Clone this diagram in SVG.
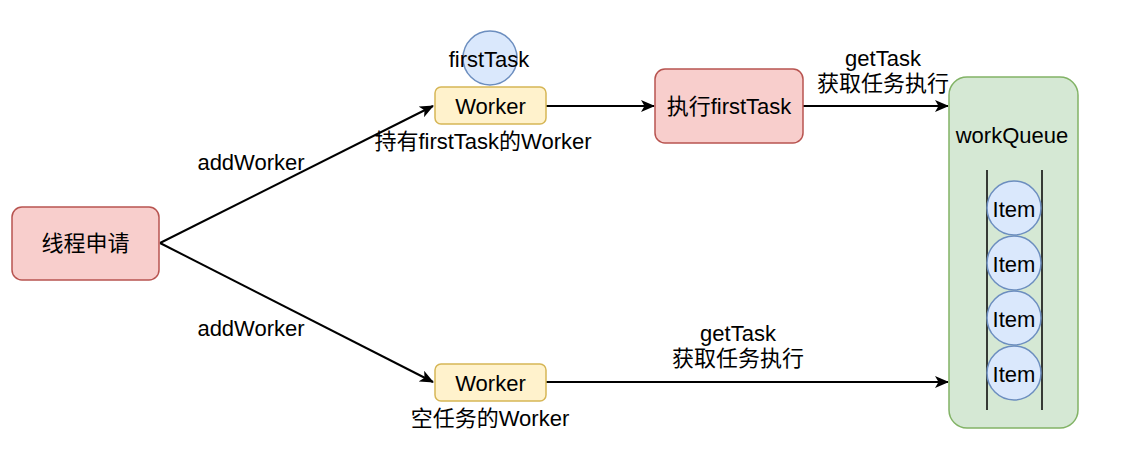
<svg xmlns="http://www.w3.org/2000/svg" width="1124" height="455" viewBox="0 0 1124 455">
<style>
text{font-family:"Liberation Sans","Noto Sans CJK SC",sans-serif;font-size:22px;fill:#000;text-anchor:middle;dominant-baseline:central}
.red{fill:#f8cecc;stroke:#b85450;stroke-width:1.5}
.yel{fill:#fff2cc;stroke:#d6b656;stroke-width:1.5}
.blu{fill:#dae8fc;stroke:#6c8ebf;stroke-width:1.5}
.grn{fill:#d5e8d4;stroke:#82b366;stroke-width:1.5}
.edge{fill:none;stroke:#000;stroke-width:2;marker-end:url(#arr)}
</style>
<defs>
<marker id="arr" markerWidth="14" markerHeight="12" refX="13" refY="6" orient="auto" markerUnits="userSpaceOnUse">
<path d="M0,0 L14,6 L0,12 L3.5,6 Z" fill="#000"/>
</marker>
</defs>
<rect width="1124" height="455" fill="#fff"/>
<g id="connectors">
<path class="edge" d="M160,243 L433,106"/>
<path class="edge" d="M160,243 L433,382"/>
<path class="edge" d="M546,106 L654,106"/>
<path class="edge" d="M803,106 L948,106"/>
<path class="edge" d="M546,382 L948,382"/>
<text x="251" y="162">addWorker</text>
<text x="251" y="328">addWorker</text>
<text x="883" y="58">getTask</text>
<text x="883" y="83">获取任务执行</text>
<text x="738" y="333">getTask</text>
<text x="738" y="358">获取任务执行</text>
</g>
<g id="apply">
<rect class="red" x="12" y="207" width="147" height="73" rx="10"/>
<text x="85.5" y="243.5">线程申请</text>
</g>
<g id="firstTask">
<circle class="blu" cx="490" cy="58" r="27"/>
<text x="489" y="59">firstTask</text>
</g>
<g id="worker1">
<rect class="yel" x="435" y="87" width="111" height="37" rx="6"/>
<text x="490.5" y="106">Worker</text>
<text x="483" y="141">持有firstTask的Worker</text>
</g>
<g id="exec">
<rect class="red" x="655" y="69" width="148" height="74" rx="10"/>
<text x="729" y="106">执行firstTask</text>
</g>
<g id="worker2">
<rect class="yel" x="435" y="364" width="111" height="37" rx="6"/>
<text x="490.5" y="383">Worker</text>
<text x="490" y="418">空任务的Worker</text>
</g>
<g id="workQueue">
<rect class="grn" x="949" y="77" width="129" height="351" rx="18"/>
<text x="1012" y="135">workQueue</text>
<line x1="987" y1="170" x2="987" y2="410" stroke="#000" stroke-width="1.5"/>
<line x1="1042" y1="170" x2="1042" y2="410" stroke="#000" stroke-width="1.5"/>
</g>
<g id="item1"><circle class="blu" cx="1014" cy="208" r="27"/><text x="1014" y="209">Item</text></g>
<g id="item2"><circle class="blu" cx="1014" cy="263" r="27"/><text x="1014" y="264">Item</text></g>
<g id="item3"><circle class="blu" cx="1014" cy="318" r="27"/><text x="1014" y="319">Item</text></g>
<g id="item4"><circle class="blu" cx="1014" cy="373" r="27"/><text x="1014" y="374">Item</text></g>
</svg>
